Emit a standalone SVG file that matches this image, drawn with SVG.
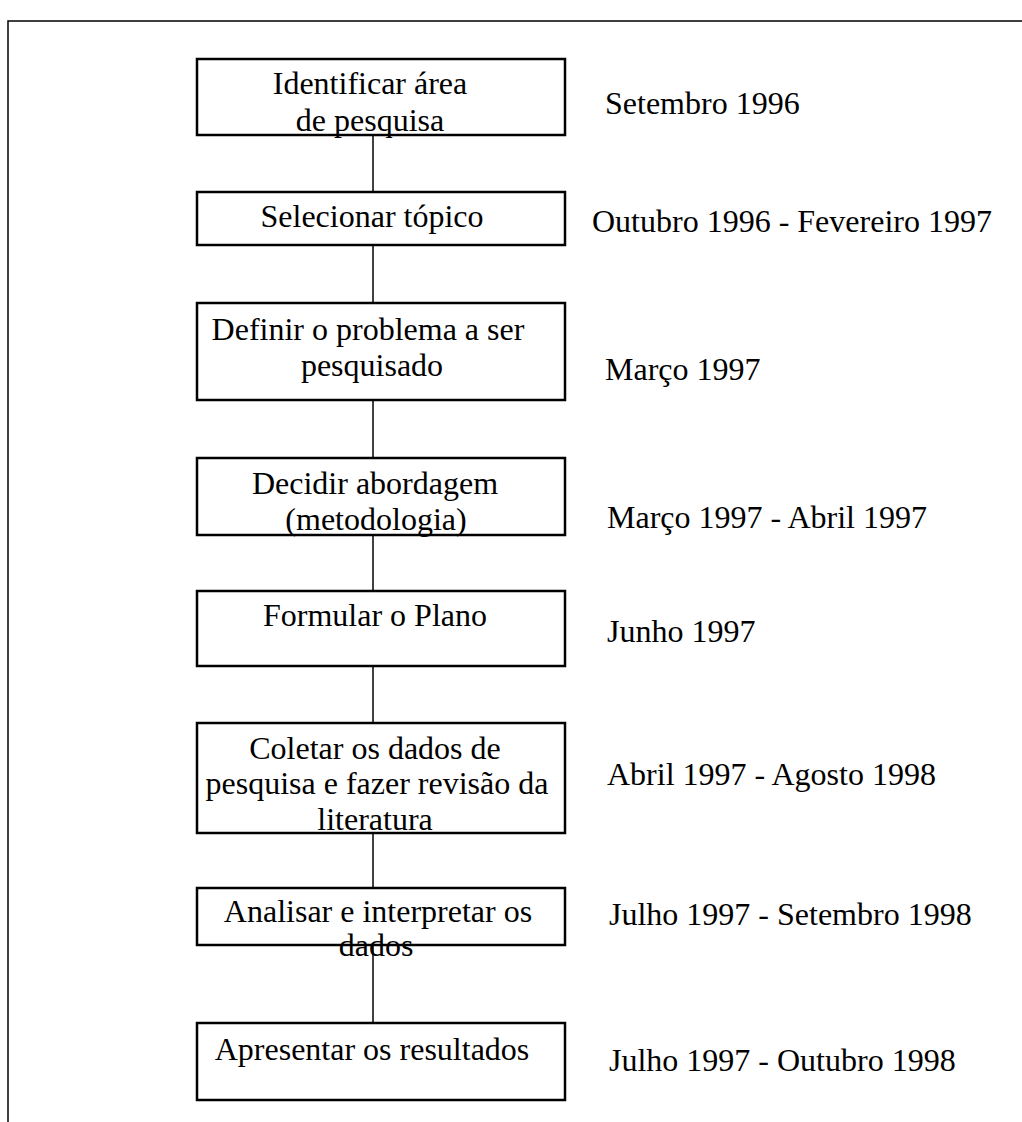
<svg xmlns="http://www.w3.org/2000/svg" width="1022" height="1122" viewBox="0 0 1022 1122">
  <style>
    .frame { fill: none; stroke: #000; stroke-width: 1.5; }
    .box { fill: #fff; stroke: #000; stroke-width: 2.5; }
    .link { stroke: #000; stroke-width: 1.5; fill: none; }
    text { font-family: "Liberation Serif", "Times New Roman", serif; font-size: 32px; fill: #000; }
    .step { text-anchor: middle; }
  </style>
  <rect width="1022" height="1122" fill="#fff"/>

  <!-- page frame: open on the right and at the bottom -->
  <path class="frame" d="M8,1122 V21 H1022"/>

  <!-- connectors between consecutive steps -->
  <g id="connectors">
    <line class="link" x1="373" y1="136" x2="373" y2="192"/>
    <line class="link" x1="373" y1="245" x2="373" y2="303"/>
    <line class="link" x1="373" y1="400" x2="373" y2="458"/>
    <line class="link" x1="373" y1="535" x2="373" y2="591"/>
    <line class="link" x1="373" y1="666" x2="373" y2="723"/>
    <line class="link" x1="373" y1="833" x2="373" y2="888"/>
    <line class="link" x1="373" y1="945" x2="373" y2="1023"/>
  </g>

  <g id="step1">
    <rect class="box" x="197" y="59" width="368" height="76"/>
    <text class="step" x="370" y="94">Identificar área</text>
    <text class="step" x="370" y="131">de pesquisa</text>
    <text x="605" y="114">Setembro 1996</text>
  </g>

  <g id="step2">
    <rect class="box" x="197" y="192" width="368" height="53"/>
    <text class="step" x="372" y="227">Selecionar tópico</text>
    <text x="592" y="232">Outubro 1996 - Fevereiro 1997</text>
  </g>

  <g id="step3">
    <rect class="box" x="197" y="303" width="368" height="97"/>
    <text class="step" x="368" y="340">Definir o problema a ser</text>
    <text class="step" x="372" y="376">pesquisado</text>
    <text x="605" y="380">Março 1997</text>
  </g>

  <g id="step4">
    <rect class="box" x="197" y="458" width="368" height="77"/>
    <text class="step" x="375" y="494">Decidir abordagem</text>
    <text class="step" x="376" y="530">(metodologia)</text>
    <text x="607" y="528">Março 1997 - Abril 1997</text>
  </g>

  <g id="step5">
    <rect class="box" x="197" y="591" width="368" height="75"/>
    <text class="step" x="375" y="626">Formular o Plano</text>
    <text x="607" y="642">Junho 1997</text>
  </g>

  <g id="step6">
    <rect class="box" x="197" y="723" width="368" height="110"/>
    <text class="step" x="375" y="759">Coletar os dados de</text>
    <text class="step" x="377" y="794">pesquisa e fazer revisão da</text>
    <text class="step" x="375" y="830">literatura</text>
    <text x="607" y="785">Abril 1997 - Agosto 1998</text>
  </g>

  <g id="step7">
    <rect class="box" x="197" y="888" width="368" height="57"/>
    <text class="step" x="378" y="922">Analisar e interpretar os</text>
    <text class="step" x="376" y="956">dados</text>
    <text x="609" y="925">Julho 1997 - Setembro 1998</text>
  </g>

  <g id="step8">
    <rect class="box" x="197" y="1023" width="368" height="77"/>
    <text class="step" x="372" y="1060">Apresentar os resultados</text>
    <text x="609" y="1071">Julho 1997 - Outubro 1998</text>
  </g>
</svg>
